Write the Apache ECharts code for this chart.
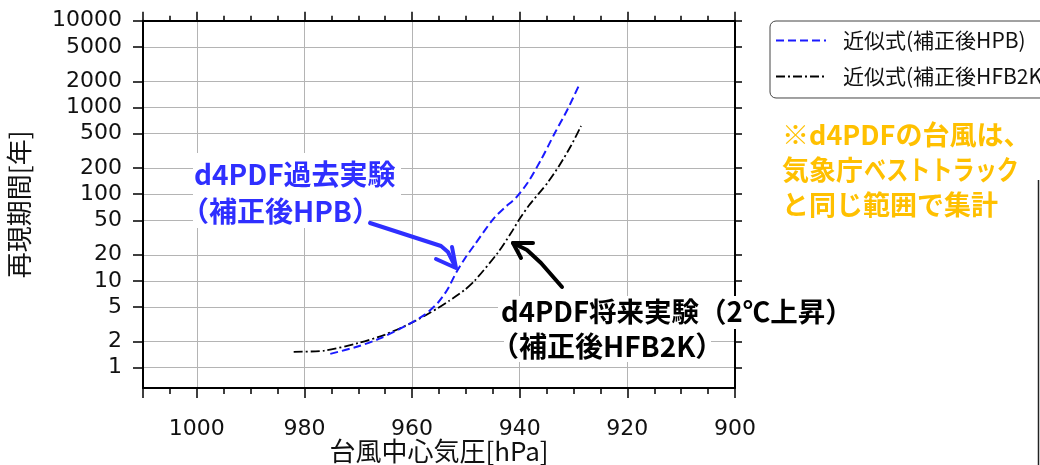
<!DOCTYPE html>
<html><head><meta charset="utf-8">
<script src="https://cdn.jsdelivr.net/npm/echarts@6/dist/echarts.min.js"></script>
<style>html,body{margin:0;padding:0;background:#fff}#chart{width:1040px;height:465px}</style>
</head><body><div id="chart"></div>
<script>
// ---- data ----
const hpbPressure = [975.2, 970.1, 965.8, 961.4, 957.7, 955.2, 953.4, 951.8, 950.1, 948.4, 945.0, 942.9, 940.7, 938.5, 936.0, 933.6, 931.1, 928.9];
const hpbPeriod   = [1.44, 1.75, 2.19, 2.98, 4.06, 5.6, 8.0, 12.5, 18.5, 26, 51, 69, 91, 136, 252, 490, 953, 1850];
const hfbPressure = [982.0, 976.3, 970.1, 965.1, 959.6, 955.2, 953.1, 950.3, 948.4, 944.1, 941.6, 940.1, 938.3, 936.0, 934.8, 932.7, 930.5, 928.6];
const hfbPeriod   = [1.52, 1.57, 1.91, 2.39, 3.40, 4.86, 5.9, 7.8, 10.0, 21.0, 35.8, 51, 74, 110, 136, 211, 359, 611];
const periodTicks = [1, 2, 5, 10, 20, 50, 100, 200, 500, 1000, 2000, 5000, 10000];
const seriesNames = ['近似式(補正後HPB)', '近似式(補正後HFB2K)'];
const pressureMin = 900, pressureMax = 1010;
const periodMin = 0.582, periodMax = 10000;

const lg = v => Math.log10(v);
const tickLogs = periodTicks.map(lg);
const jp = '"Noto Sans CJK JP", "Noto Sans", sans-serif';
const num = '"DejaVu Sans", sans-serif';

const chart = echarts.init(document.getElementById('chart'), null, {renderer: 'canvas'});

function xAx(pos, interval, tickLen, opts) {
  return Object.assign({
    type: 'value', min: pressureMin, max: pressureMax, interval: interval, inverse: true, position: pos,
    axisLine: {show: false, onZero: false},
    axisTick: {show: true, length: tickLen, lineStyle: {color: '#000', width: 1.5}},
    axisLabel: {show: false},
    splitLine: {show: false}
  }, opts || {});
}

const option = {
  animation: false,
  backgroundColor: '#fff',
  grid: {left: 143, right: 305, top: 20.7, bottom: 77, containLabel: false, outerBoundsMode: 'none'},
  legend: {
    orient: 'vertical', left: 770, top: 21,
    padding: [9, 90, 11, 5], itemGap: 15, itemWidth: 50, itemHeight: 14,
    itemStyle: {opacity: 0},
    textStyle: {fontSize: 21, fontFamily: jp, color: '#111', padding: [0, 0, 0, 12]},
    borderColor: '#444', borderWidth: 1, borderRadius: 6, backgroundColor: '#fff',
    data: seriesNames
  },
  xAxis: [
    xAx('bottom', 20, 10, {
      axisLine: {show: true, onZero: false, lineStyle: {color: '#000', width: 2}},
      axisLabel: {show: true, margin: 30, fontSize: 22, color: '#111', fontFamily: num,
        formatter: v => (v % 20 === 0 ? String(v) : '')},
      splitLine: {show: true, lineStyle: {color: '#b4b4b4', width: 1}},
      name: '台風中心気圧[hPa]', nameLocation: 'middle', nameGap: 50, nameMoveOverlap: false,
      nameTextStyle: {fontSize: 26, fontFamily: jp, color: '#111'}
    }),
    xAx('bottom', 5, 6),
    xAx('top', 20, 9, {axisLine: {show: true, onZero: false, lineStyle: {color: '#000', width: 2}}}),
    xAx('top', 5, 5)
  ],
  yAxis: [
    {
      type: 'value', min: lg(periodMin), max: lg(periodMax), position: 'left',
      axisLine: {show: true, onZero: false, lineStyle: {color: '#000', width: 2}},
      axisTick: {show: true, length: 10, customValues: tickLogs, lineStyle: {color: '#000', width: 1.5}},
      axisLabel: {show: true, customValues: tickLogs, margin: 21, fontSize: 22, color: '#111', fontFamily: num,
        formatter: v => String(Math.round(Math.pow(10, v)))},
      splitLine: {show: true, lineStyle: {color: '#b4b4b4', width: 1}},
      name: '再現期間[年]', nameLocation: 'middle', nameGap: 111, nameRotate: 90, nameMoveOverlap: false,
      nameTextStyle: {fontSize: 26, fontFamily: jp, color: '#111'}
    },
    {
      type: 'value', min: lg(periodMin), max: lg(periodMax), position: 'right',
      axisLine: {show: true, onZero: false, lineStyle: {color: '#000', width: 2}},
      axisTick: {show: true, length: 7, customValues: tickLogs, lineStyle: {color: '#000', width: 1.5}},
      axisLabel: {show: false},
      splitLine: {show: false}
    }
  ],
  series: [
    {
      type: 'line', name: seriesNames[0], xAxisIndex: 0, yAxisIndex: 0,
      data: hpbPressure.map((p, i) => [p, lg(hpbPeriod[i])]),
      symbol: 'none', showSymbol: false, smooth: 0.25, z: 5,
      lineStyle: {color: '#1a1aff', width: 2, type: [8, 4]},
      itemStyle: {color: '#1a1aff'}
    },
    {
      type: 'line', name: seriesNames[1], xAxisIndex: 0, yAxisIndex: 0,
      data: hfbPressure.map((p, i) => [p, lg(hfbPeriod[i])]),
      symbol: 'none', showSymbol: false, smooth: 0.25, z: 4,
      lineStyle: {color: '#000', width: 1.8, type: [9, 3, 2, 3]},
      itemStyle: {color: '#000'}
    }
  ],
  graphic: [
    // white boxes behind annotations
    {type: 'rect', z: 50, shape: {x: 193, y: 153, width: 208, height: 45}, style: {fill: '#fff'}},
    {type: 'rect', z: 50, shape: {x: 193, y: 198, width: 176, height: 30}, style: {fill: '#fff'}},
    {type: 'rect', z: 50, shape: {x: 498, y: 296, width: 342, height: 33}, style: {fill: '#fff'}},
    {type: 'rect', z: 50, shape: {x: 504, y: 329, width: 207, height: 33}, style: {fill: '#fff'}},
    // blue annotation
    {type: 'text', z: 60, x: 194, y: 174, style: {text: 'd4PDF過去実験', font: 'bold 28px ' + jp, fill: '#2f2fff', align: 'left', verticalAlign: 'middle'}},
    {type: 'text', z: 60, x: 181, y: 211, style: {text: '（補正後HPB）', font: 'bold 28px ' + jp, fill: '#2f2fff', align: 'left', verticalAlign: 'middle'}},
    {type: 'polyline', z: 60, shape: {points: [[370, 223], [441, 246], [448, 252], [455, 266]]}, style: {stroke: '#2f2fff', lineWidth: 4, fill: null, lineCap: 'round', lineJoin: 'round'}},
    {type: 'polyline', z: 60, shape: {points: [[436, 259], [456, 268], [452, 247]]}, style: {stroke: '#2f2fff', lineWidth: 4, fill: null, lineCap: 'round', lineJoin: 'round'}},
    // black annotation
    {type: 'text', z: 60, x: 501, y: 312, style: {text: 'd4PDF将来実験（2℃上昇）', font: 'bold 27.5px ' + jp, fill: '#000', align: 'left', verticalAlign: 'middle'}},
    {type: 'text', z: 60, x: 491, y: 346, style: {text: '（補正後HFB2K）', font: 'bold 28px ' + jp, fill: '#000', align: 'left', verticalAlign: 'middle'}},
    {type: 'polyline', z: 60, shape: {points: [[562, 287], [541, 263], [527, 250], [513, 243]]}, style: {stroke: '#000', lineWidth: 4, fill: null, lineCap: 'round', lineJoin: 'round'}},
    {type: 'polyline', z: 60, shape: {points: [[533, 243], [513, 243], [521, 258]]}, style: {stroke: '#000', lineWidth: 4, fill: null, lineCap: 'round', lineJoin: 'round'}},
    // orange note
    {type: 'text', z: 60, x: 782, y: 135, style: {text: '※d4PDFの台風は、', font: 'bold 27px ' + jp, fill: '#ffc000', align: 'left', verticalAlign: 'middle'}},
    {type: 'text', z: 60, x: 782, y: 170, style: {text: '気象庁', font: 'bold 27px ' + jp, fill: '#ffc000', align: 'left', verticalAlign: 'middle'}},
    {type: 'text', z: 60, x: 864, y: 170, scaleX: 0.82, style: {text: 'ベストトラック', font: 'bold 27px ' + jp, fill: '#ffc000', align: 'left', verticalAlign: 'middle'}},
    {type: 'text', z: 60, x: 782, y: 205, style: {text: 'と同じ範囲で集計', font: 'bold 27px ' + jp, fill: '#ffc000', align: 'left', verticalAlign: 'middle'}},
    // edge line at far right
    {type: 'line', z: 60, shape: {x1: 1038.5, y1: 180, x2: 1038.5, y2: 465}, style: {stroke: '#222', lineWidth: 1.5}}
  ]
};
chart.setOption(option);
</script>
</body></html>
